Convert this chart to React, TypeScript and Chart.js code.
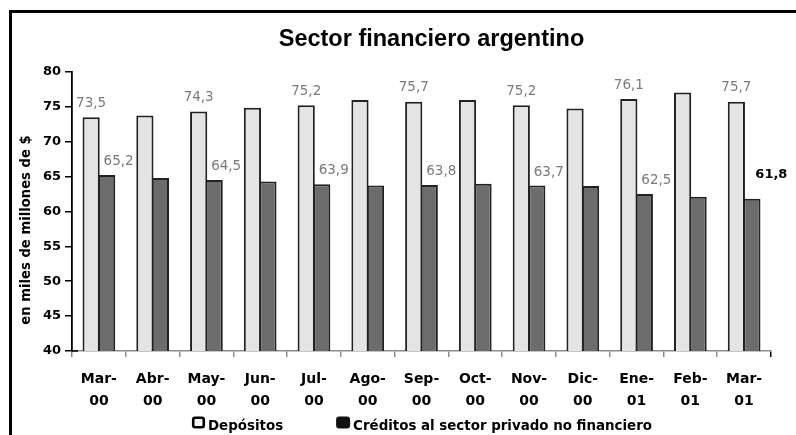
import React, { useEffect, useRef } from 'react';
import { Chart, registerables } from 'chart.js';

Chart.register(...registerables);

const titleText = 'Sector financiero argentino';
const yAxisTitle = 'en miles de millones de $';
const seriesNames = ['Depósitos', 'Créditos al sector privado no financiero'];
const categories: string[][] = [
  ['Mar-', '00'], ['Abr-', '00'], ['May-', '00'], ['Jun-', '00'], ['Jul-', '00'],
  ['Ago-', '00'], ['Sep-', '00'], ['Oct-', '00'], ['Nov-', '00'], ['Dic-', '00'],
  ['Ene-', '01'], ['Feb-', '01'], ['Mar-', '01'],
];
const depositos = [73.5, 73.75, 74.3, 74.85, 75.2, 75.95, 75.7, 75.95, 75.2, 74.75, 76.1, 77.05, 75.7];
const creditos = [65.2, 64.8, 64.5, 64.3, 63.9, 63.7, 63.8, 63.95, 63.7, 63.65, 62.5, 62.1, 61.8];
const labeledIndices = [0, 2, 4, 6, 8, 10, 12];
const yTickValues = [40, 45, 50, 55, 60, 65, 70, 75, 80];

const FAMILY = "'DejaVu Sans', sans-serif";
const fmt = (v: number) => v.toFixed(1).replace('.', ',');

const titleShift = {
  id: 'titleShift',
  afterLayout(chart: any) {
    const t = chart.titleBlock;
    if (t) {
      t.left = chart.chartArea.left + 20;
      t.right = chart.chartArea.right;
    }
  },
};

const yTitlePlugin = {
  id: 'yTitlePlugin',
  afterDraw(chart: any) {
    const ctx = chart.ctx as CanvasRenderingContext2D;
    ctx.save();
    ctx.translate(27, 230);
    ctx.rotate(-Math.PI / 2);
    ctx.font = `bold 13.2px ${FAMILY}`;
    ctx.fillStyle = '#000';
    ctx.textAlign = 'center';
    ctx.textBaseline = 'middle';
    ctx.fillText(yAxisTitle, 0, 0);
    ctx.restore();
  },
};

const dataLabels = {
  id: 'dataLabels',
  afterDatasetsDraw(chart: any) {
    const ctx = chart.ctx as CanvasRenderingContext2D;
    ctx.save();
    ctx.textAlign = 'center';
    ctx.textBaseline = 'alphabetic';
    const last = chart.data.labels.length - 1;
    labeledIndices.forEach((i) => {
      const b0 = chart.getDatasetMeta(0).data[i];
      const b1 = chart.getDatasetMeta(1).data[i];
      const v0 = chart.data.datasets[0].data[i] as number;
      const v1 = chart.data.datasets[1].data[i] as number;
      ctx.font = `13.5px ${FAMILY}`;
      ctx.fillStyle = '#7a7a7a';
      ctx.fillText(fmt(v0), b0.x, b0.y - 10.5);
      if (i === last) {
        ctx.font = `bold 13px ${FAMILY}`;
        ctx.fillStyle = '#000';
        ctx.fillText(fmt(v1), b1.x + 19.5, b1.y - 21);
      } else {
        ctx.font = `13.5px ${FAMILY}`;
        ctx.fillStyle = '#7a7a7a';
        ctx.fillText(fmt(v1), b1.x + 12, b1.y - 9.7);
      }
    });
    ctx.restore();
  },
};

const axisCross = {
  id: 'axisCross',
  afterDraw(chart: any) {
    const ctx = chart.ctx as CanvasRenderingContext2D;
    const y = chart.scales.y.getPixelForValue(40);
    const x = chart.chartArea.left;
    ctx.save();
    ctx.strokeStyle = '#000';
    ctx.lineWidth = 1.5;
    ctx.beginPath();
    ctx.moveTo(x, y);
    ctx.lineTo(x + 6, y);
    ctx.stroke();
    ctx.restore();
  },
};

const customLegend = {
  id: 'customLegend',
  afterDraw(chart: any) {
    const ctx = chart.ctx as CanvasRenderingContext2D;
    ctx.save();
    ctx.font = `bold 13.4px ${FAMILY}`;
    ctx.textBaseline = 'alphabetic';
    ctx.textAlign = 'left';
    let x = 192;
    const top = 416.5;
    chart.data.datasets.forEach((ds: any, i: number) => {
      const w = i === 0 ? 13 : 14;
      ctx.beginPath();
      (ctx as any).roundRect(x + 1.2, top + 1.2, w - 2.4, 12 - 2.4, 2);
      if (i === 0) {
        ctx.fillStyle = '#f4f4f4';
        ctx.fill();
        ctx.lineWidth = 2.6;
        ctx.strokeStyle = '#000';
        ctx.stroke();
      } else {
        ctx.fillStyle = '#111';
        ctx.fill();
        ctx.lineWidth = 2.4;
        ctx.strokeStyle = '#111';
        ctx.stroke();
      }
      ctx.fillStyle = '#000';
      ctx.fillText(ds.label, x + w + 3, 429.5);
      x += w + 3 + ctx.measureText(ds.label).width + 53;
    });
    ctx.restore();
  },
};

export default function App() {
  const canvasRef = useRef<HTMLCanvasElement | null>(null);

  useEffect(() => {
    if (!canvasRef.current) return;
    const chart = new Chart(canvasRef.current, {
      type: 'bar',
      data: {
        labels: categories,
        datasets: [
          {
            label: seriesNames[0],
            data: depositos,
            backgroundColor: '#e4e4e4',
            borderColor: '#222',
            borderWidth: 2,
            borderSkipped: 'start',
            categoryPercentage: 0.577,
            barPercentage: 1.11,
          },
          {
            label: seriesNames[1],
            data: creditos,
            backgroundColor: '#6c6c6c',
            borderColor: '#222',
            borderWidth: 2,
            borderSkipped: 'start',
            categoryPercentage: 0.577,
            barPercentage: 1.11,
          },
        ],
      },
      options: {
        animation: false,
        responsive: true,
        maintainAspectRatio: false,
        layout: { padding: { left: 10, right: 25, top: 0, bottom: 25 } },
        plugins: {
          legend: { display: false },
          tooltip: { enabled: false },
          title: {
            display: true,
            text: titleText,
            color: '#000',
            font: { family: "'Liberation Sans', Arial, sans-serif", size: 23.5, weight: 'bold', lineHeight: 1.2 },
            padding: { top: 25, bottom: 18.6 },
          },
        },
        scales: {
          x: {
            offset: true,
            grid: {
              offset: true,
              drawOnChartArea: false,
              drawTicks: true,
              tickLength: 6,
              lineWidth: 1.5,
              color: (c: any) => (c.type === 'tick' ? '#8c8c8c' : '#000'),
            },
            border: { display: true, color: '#8c8c8c', width: 1.5 },
            ticks: {
              color: '#000',
              font: { family: FAMILY, size: 14, weight: 'bold', lineHeight: 1.55 },
              padding: 12,
              maxRotation: 0,
              minRotation: 0,
              autoSkip: false,
            },
            afterFit: (s: any) => {
              s.height = 59;
            },
          },
          y: {
            min: 40,
            max: 80,
            afterBuildTicks: (s: any) => {
              s.ticks = yTickValues.map((v) => ({ value: v }));
            },
            ticks: {
              color: '#000',
              font: { family: FAMILY, size: 13, weight: 'bold' },
              padding: 4,
            },
            grid: {
              drawOnChartArea: false,
              drawTicks: true,
              tickLength: 7,
              color: '#000',
              lineWidth: 1.5,
            },
            border: { display: true, color: '#000', width: 1.8 },
            title: { display: false },
            afterFit: (s: any) => {
              s.width = 62;
            },
          },
        },
      },
      plugins: [titleShift, dataLabels, axisCross, yTitlePlugin, customLegend],
    } as any);
    return () => chart.destroy();
  }, []);

  return (
    <div style={{ position: 'absolute', left: 0, top: 0, width: 796, height: 435, background: '#fff', overflow: 'hidden' }}>
      <canvas ref={canvasRef} />
      <div
        style={{
          position: 'absolute',
          left: 9,
          top: 10,
          right: 0,
          bottom: 0,
          borderTop: '3px solid #000',
          borderLeft: '3px solid #000',
          pointerEvents: 'none',
        }}
      />
    </div>
  );
}
